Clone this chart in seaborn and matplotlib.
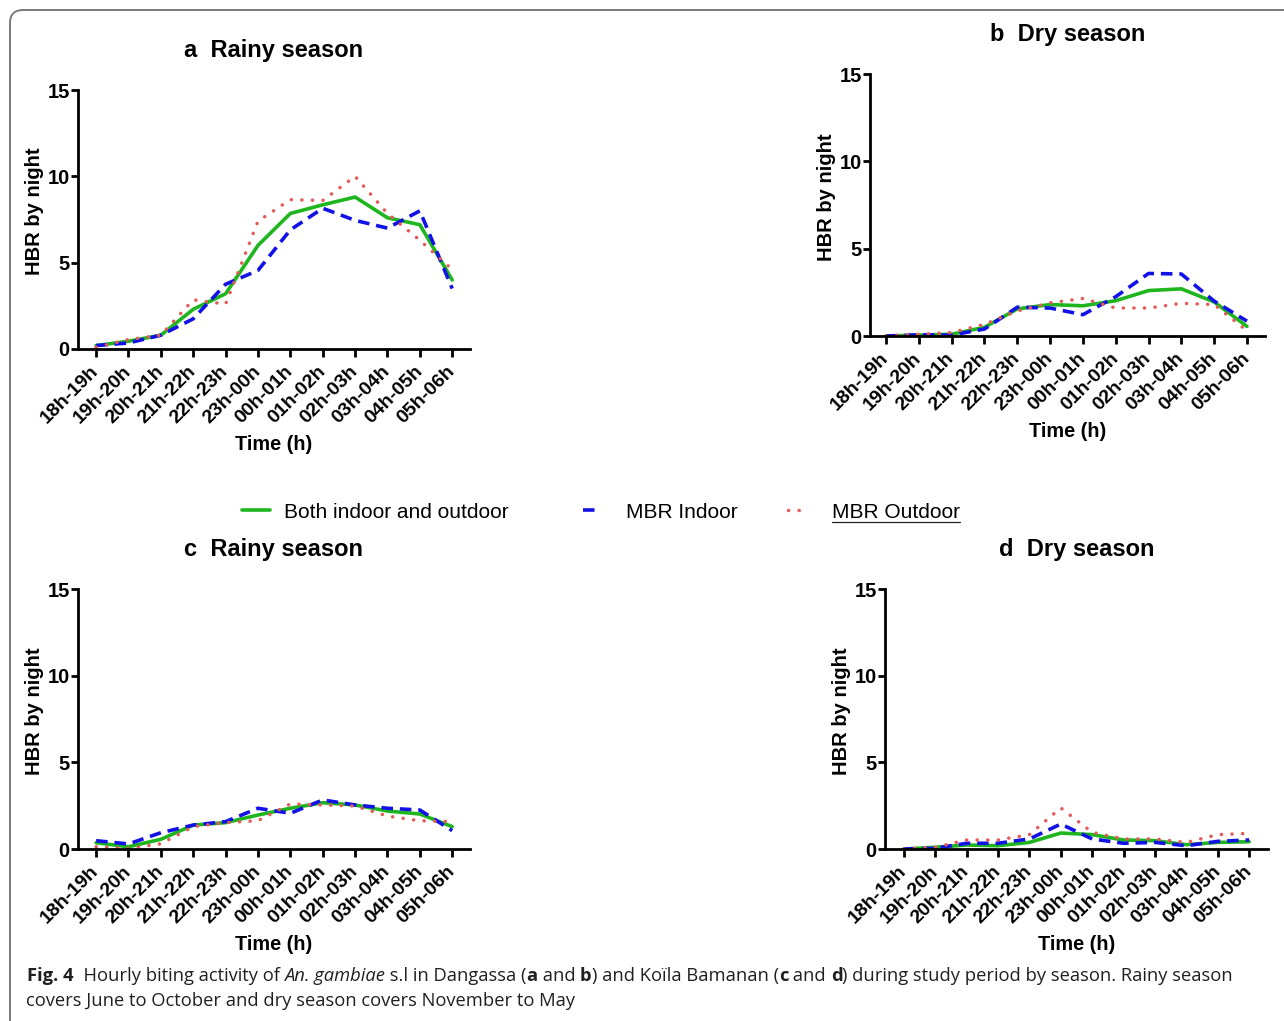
import numpy as np
import pandas as pd
import seaborn as sns
import matplotlib.pyplot as plt
from matplotlib.patches import FancyBboxPatch
from matplotlib.lines import Line2D

# hourly slots
slots = ['18h-19h', '19h-20h', '20h-21h', '21h-22h', '22h-23h', '23h-00h',
         '00h-01h', '01h-02h', '02h-03h', '03h-04h', '04h-05h', '05h-06h']

# a: Dangassa, rainy season
a_both = [0.2, 0.45, 0.8, 2.3, 3.2, 6.0, 7.85, 8.35, 8.8, 7.6, 7.2, 4.0]
a_in = [0.2, 0.35, 0.8, 1.75, 3.75, 4.55, 6.9, 8.15, 7.45, 7.0, 8.0, 3.5]
a_out = [0.1, 0.55, 0.8, 2.85, 2.6, 7.4, 8.65, 8.6, 10.0, 7.85, 6.3, 4.6]

# b: Dangassa, dry season
b_both = [0.0, 0.05, 0.1, 0.5, 1.55, 1.8, 1.73, 2.02, 2.6, 2.7, 1.95, 0.55]
b_in = [0.0, 0.07, 0.05, 0.4, 1.65, 1.6, 1.22, 2.25, 3.58, 3.55, 2.0, 0.85]
b_out = [0.0, 0.1, 0.2, 0.67, 1.43, 1.9, 2.15, 1.6, 1.6, 1.87, 1.8, 0.3]

# c: Koila Bamanan, rainy season
c_both = [0.36, 0.13, 0.56, 1.38, 1.52, 1.96, 2.35, 2.67, 2.54, 2.19, 2.02, 1.29]
c_in = [0.48, 0.29, 0.94, 1.38, 1.58, 2.35, 2.06, 2.83, 2.54, 2.35, 2.25, 1.06]
c_out = [0.13, 0.03, 0.3, 1.29, 1.52, 1.63, 2.6, 2.54, 2.48, 1.9, 1.63, 1.58]

# d: Koila Bamanan, dry season
d_both = [0.0, 0.1, 0.23, 0.19, 0.38, 0.92, 0.83, 0.52, 0.48, 0.25, 0.38, 0.42]
d_in = [0.0, 0.04, 0.33, 0.33, 0.58, 1.44, 0.58, 0.33, 0.38, 0.19, 0.44, 0.52]
d_out = [0.0, 0.1, 0.52, 0.52, 0.83, 2.37, 0.96, 0.58, 0.58, 0.38, 0.83, 0.9]

series_names = ['Both indoor and outdoor', 'MBR Indoor', 'MBR Outdoor']

sns.set_theme(style='white')
plt.rcParams['font.family'] = ['Liberation Sans', 'DejaVu Sans']
plt.rcParams.update({'text.color': 'black', 'axes.labelcolor': 'black',
                     'xtick.color': 'black', 'ytick.color': 'black'})

W, H = 1284, 1021
fig = plt.figure(figsize=(W / 100, H / 100), dpi=100)

# rounded frame of the figure box
frame = FancyBboxPatch((0.1, -0.4), 13.5, (H - 10) / 100 + 0.4,
                       boxstyle='round,pad=0,rounding_size=0.13',
                       transform=fig.dpi_scale_trans, fc='none',
                       ec='#7a7a7a', lw=1.4)
fig.patches.append(frame)


def px_rect(left, right, top, bottom):
    return [left / W, 1 - bottom / H, (right - left) / W, (bottom - top) / H]


panels = [
    ('a  Rainy season', px_rect(78, 470, 90, 349), (-0.56, 11.55), a_both, a_in, a_out),
    ('b  Dry season', px_rect(870, 1265, 74, 336), (-0.49, 11.55), b_both, b_in, b_out),
    ('c  Rainy season', px_rect(78, 470, 589, 849), (-0.56, 11.55), c_both, c_in, c_out),
    ('d  Dry season', px_rect(885, 1268, 589, 849), (-0.6, 11.6), d_both, d_in, d_out),
]

green, blue, red = '#1fb51f', '#1212e6', '#e45a5a'
legend_handles = None

for title, rect, xlim, both, indoor, outdoor in panels:
    ax = fig.add_axes(rect)
    pos = np.arange(len(slots))
    df = pd.DataFrame({'pos': np.tile(pos, 3),
                       'HBR': both + indoor + outdoor,
                       'series': np.repeat(series_names, len(slots))})

    sns.lineplot(data=df[df.series == series_names[0]], x='pos', y='HBR',
                 color=green, lw=2.6, ax=ax, label=series_names[0])
    sns.lineplot(data=df[df.series == series_names[1]], x='pos', y='HBR',
                 color=blue, lw=2.6, ax=ax, label=series_names[1],
                 linestyle=(0, (3.2, 1.9)))
    sns.lineplot(data=df[df.series == series_names[2]], x='pos', y='HBR',
                 color=red, lw=2.5, ax=ax, label=series_names[2],
                 linestyle=(0, (0.05, 3.0)), dash_capstyle='round')
    legend_handles = ax.get_legend_handles_labels()
    ax.get_legend().remove()

    ax.set_xlim(*xlim)
    ax.set_ylim(0, 15)
    ax.set_yticks([0, 5, 10, 15])
    ax.set_xticks(pos)
    ax.set_xticklabels(slots, rotation=45, ha='right', va='center',
                       rotation_mode='anchor', fontsize=14, fontweight='bold')
    ax.tick_params(axis='y', labelsize=14.5, width=2, length=5, pad=1,
                   direction='out', left=True, color='black')
    ax.tick_params(axis='x', width=2, length=6, pad=8,
                   direction='out', bottom=True, color='black')
    for lab in ax.get_yticklabels():
        lab.set_fontweight('bold')
    for side in ['top', 'right']:
        ax.spines[side].set_visible(False)
    for side in ['left', 'bottom']:
        ax.spines[side].set_linewidth(2)
        ax.spines[side].set_color('black')
    ax.patch.set_alpha(0)

    bb = ax.get_position()
    hpx = bb.height * H
    wpx = bb.width * W
    ax.set_xlabel('Time (h)', fontsize=14.3, fontweight='bold', va='center')
    ax.xaxis.set_label_coords(0.5, -95 / hpx)
    ax.set_ylabel('HBR by night', fontsize=14.5, fontweight='bold', va='center')
    ax.yaxis.set_label_coords(-44 / wpx, 0.53)
    ax.set_title(title, fontsize=17, fontweight='bold', pad=24)

# one legend per entry, so the uneven spacing of the original can be kept
handles, labels = legend_handles
leg_x = [242, 583, 788]
leg_len = [1.35, 0.7, 0.9]
leg_pad = [0.67, 1.35, 1.2]
legends = []
for h, lab, x, hl, tp in zip(handles, labels, leg_x, leg_len, leg_pad):
    lg = fig.legend([h], [lab], loc='center left', bbox_to_anchor=(x / W, 1 - 512 / H),
                    frameon=False, fontsize=15, handlelength=hl, handletextpad=tp,
                    borderpad=0, borderaxespad=0)
    legends.append(lg)

fig.canvas.draw()
renderer = fig.canvas.get_renderer()

# underline under the last legend entry
t = legends[2].get_texts()[0]
eb = t.get_window_extent(renderer)
fig.add_artist(Line2D([eb.x0 / W, eb.x1 / W], [(eb.y0 - 1) / H, (eb.y0 - 1) / H],
                      transform=fig.transFigure, color='#222222', lw=0.9))

# caption with mixed styles
cap_font = ['Open Sans', 'DejaVu Sans']
cap_size = 13.2


def run_width(s, weight, style):
    probe = fig.text(0, 0, '|' + s + '|', family=cap_font, fontsize=cap_size,
                     fontweight=weight, fontstyle=style)
    bar = fig.text(0, 0, '||', family=cap_font, fontsize=cap_size,
                   fontweight=weight, fontstyle=style)
    w = probe.get_window_extent(renderer).width - bar.get_window_extent(renderer).width
    probe.remove()
    bar.remove()
    return w


def draw_runs(runs, x, y):
    for s, weight, style in runs:
        fig.text(x / W, 1 - y / H, s, family=cap_font, fontsize=cap_size,
                 fontweight=weight, fontstyle=style, va='baseline', ha='left',
                 color='#231f20')
        x += run_width(s, weight, style)


line1 = [('Fig. 4', 'bold', 'normal'),
         ('  Hourly biting activity of ', 'normal', 'normal'),
         ('An. gambiae', 'normal', 'italic'),
         (' s.l in Dangassa (', 'normal', 'normal'),
         ('a', 'bold', 'normal'),
         (' and ', 'normal', 'normal'),
         ('b', 'bold', 'normal'),
         (') and Koïla Bamanan (', 'normal', 'normal'),
         ('c', 'bold', 'normal'),
         (' and ', 'normal', 'normal'),
         ('d', 'bold', 'normal'),
         (') during study period by season. Rainy season', 'normal', 'normal')]
line2 = [('covers June to October and dry season covers November to May', 'normal', 'normal')]

draw_runs(line1, 27, 981)
draw_runs(line2, 26, 1006)

fig.savefig('out.png', dpi=100, facecolor='white')
